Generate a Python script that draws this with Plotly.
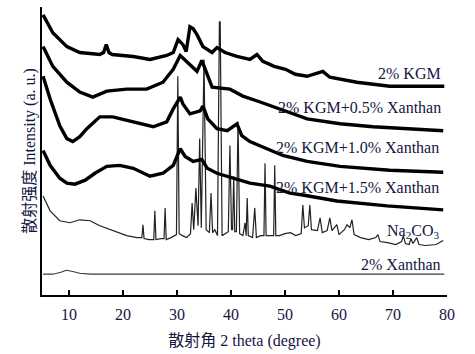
import plotly.graph_objects as go

# ---- data (2 theta in degree, intensity in arbitrary units) ----
kgm_x = [5.2, 7.0, 9.6, 12.0, 15.7, 16.4, 16.9, 17.4, 18.0, 21.9, 25.0, 28.1, 29.3, 30.2, 31.1, 31.7,
         32.4, 33.0, 33.7, 34.8, 36.5, 37.4, 38.9, 41.1, 43.5, 44.8, 45.9, 48.0, 50.1, 51.9, 54.1,
         55.5, 57.0, 58.3, 60.5, 63.3, 69.4, 75.0, 79.5]
kgm_y = [283, 265, 251, 245, 243, 245, 253, 245, 243, 241, 238, 242, 245, 258, 253, 246,
         271, 269, 263, 251, 245, 250, 245, 241, 238, 243, 236, 231, 228, 223, 221,
         223, 226, 220, 218, 215, 211, 211, 211]

x05_x = [5.2, 7.0, 9.6, 12.0, 14.4, 17.0, 20.7, 24.4, 27.4, 29.3, 30.6, 31.9, 33.7, 34.6, 35.6,
         36.5, 39.8, 42.2, 45.4, 49.1, 54.1, 60.2, 66.3, 79.3]
x05_y = [251, 231, 215, 205, 200, 206, 208, 208, 215, 228, 242, 235, 226, 237, 223,
         210, 208, 201, 195, 188, 178, 173, 170, 166]

x10_x = [5.2, 6.5, 8.3, 9.6, 10.7, 12.0, 13.3, 15.7, 18.1, 21.9, 25.6, 28.1, 29.3, 30.6, 31.1,
         32.4, 34.3, 34.8, 35.7, 37.4, 39.3, 41.1, 42.0, 43.5, 46.7, 49.6, 54.1, 60.2, 69.4, 79.3]
x10_y = [221, 198, 171, 158, 155, 160, 168, 180, 180, 175, 170, 175, 188, 200, 193,
         183, 186, 191, 178, 168, 166, 173, 161, 155, 148, 141, 135, 130, 126, 124]

x15_x = [5.2, 6.5, 8.3, 9.6, 11.1, 13.0, 14.8, 17.0, 19.4, 21.9, 25.0, 27.4, 29.3, 30.6, 31.5,
         33.0, 34.6, 35.6, 37.4, 40.4, 43.5, 47.2, 50.9, 53.3, 59.6, 68.9, 79.3]
x15_y = [146, 131, 118, 113, 112, 116, 123, 130, 131, 128, 120, 123, 131, 148, 140,
         135, 137, 128, 123, 118, 113, 110, 103, 101, 95, 90, 86]

na_x = [5.2, 6.5, 8.3, 10.2, 12.0, 13.9, 15.7, 18.1, 20.7, 22.6, 23.5, 23.7, 23.9, 24.8, 25.7,
        25.9, 26.1, 27.0, 27.6, 27.8, 28.0, 28.9, 29.9, 30.15, 30.4, 31.0, 31.8, 32.5, 32.8, 33.1,
        33.5, 33.9, 34.2, 34.5, 35.0, 35.4, 36.0, 36.3, 36.6, 37.0, 37.5, 37.85, 38.0, 38.35, 38.9,
        39.5, 39.8, 40.1, 40.3, 40.5, 40.7, 41.0, 41.3, 41.6, 42.2, 42.6, 42.8, 43.0, 43.2, 44.0,
        44.4, 44.7, 45.5, 46.1, 46.3, 46.5, 47.2, 47.9, 48.1, 48.3, 49.0, 50.0, 51.0, 52.0, 53.0,
        53.3, 53.6, 54.3, 54.6, 54.9, 56.0, 56.5, 56.9, 57.8, 58.3, 58.7, 59.6, 60.0, 61.0, 61.5,
        62.0, 62.4, 62.8, 64.0, 65.5, 66.8, 67.2, 67.6, 69.0, 70.5, 71.6, 71.9, 72.3, 73.0, 73.3,
        73.7, 74.4, 74.8, 76.0, 78.0, 79.3]
na_y = [100, 85, 75, 73, 76, 75, 70, 65, 60, 58, 58, 71, 57, 56, 56,
        85, 56, 57, 57, 88, 56, 58, 61, 221, 62, 60, 58, 62, 93, 66,
        108, 70, 158, 68, 238, 66, 63, 103, 63, 66, 60, 276, 276, 60, 62,
        64, 151, 66, 66, 120, 64, 64, 175, 62, 60, 73, 60, 98, 60, 58,
        88, 58, 60, 60, 133, 60, 60, 60, 131, 60, 60, 62, 63, 60, 62,
        91, 68, 70, 91, 66, 65, 78, 63, 65, 78, 65, 71, 61, 66, 71,
        68, 76, 61, 58, 56, 58, 61, 54, 53, 51, 54, 60, 52, 51, 57,
        52, 58, 51, 50, 51, 55]

xan_x = [5.2, 7.0, 8.5, 9.5, 10.5, 12.0, 14.0, 20.0, 40.0, 60.0, 79.5]
xan_y = [21, 21, 23, 25, 24, 22, 21, 21, 21, 21, 21]

x_ticks = [10, 20, 30, 40, 50, 60, 70, 80]
labels = ["2% KGM", "2% KGM+0.5% Xanthan", "2% KGM+1.0% Xanthan",
          "2% KGM+1.5% Xanthan", "Na<sub>2</sub>CO<sub>3</sub>", "2% Xanthan"]

TXT = "#15153f"
FONT = "Liberation Serif, Times New Roman, Noto Sans CJK SC, serif"

fig = go.Figure()
fig.add_trace(go.Scatter(x=xan_x, y=xan_y, mode="lines", line=dict(color="#3a3a3a", width=1.2)))
fig.add_trace(go.Scatter(x=na_x, y=na_y, mode="lines", line=dict(color="#222222", width=1.2)))
for xs, ys in [(x15_x, x15_y), (x10_x, x10_y), (x05_x, x05_y), (kgm_x, kgm_y)]:
    fig.add_trace(go.Scatter(x=xs, y=ys, mode="lines", line=dict(color="#000000", width=3.4)))

# label placement (positions only)
lab_pos = [(79.3, 224), (79.3, 189), (78.8, 149), (78.8, 109), (78.8, 64), (79.3, 31)]
for t, (lx, ly) in zip(labels, lab_pos):
    fig.add_annotation(x=lx, y=ly, text=t, showarrow=False, xanchor="right", yanchor="middle",
                       font=dict(family=FONT, size=16, color=TXT))

fig.update_layout(
    width=475, height=354, margin=dict(l=42, r=28, t=7, b=56),
    paper_bgcolor="white", plot_bgcolor="white", showlegend=False,
    font=dict(family=FONT, size=16, color=TXT),
)
fig.update_xaxes(range=[5, 80], tickvals=x_ticks, ticks="inside", ticklen=5, tickwidth=2,
                 tickcolor="black", showline=True, linewidth=2, linecolor="black",
                 showgrid=False, zeroline=False, ticklabelstandoff=4,
                 tickfont=dict(family=FONT, size=16, color=TXT),
                 title=dict(text="散射角 2 theta (degree)", standoff=13,
                            font=dict(family=FONT, size=16, color=TXT)))
fig.update_yaxes(range=[0, 291], showticklabels=False, ticks="", showline=True, linewidth=2,
                 linecolor="black", showgrid=False, zeroline=False,
                 title=dict(text="散射强度 Intensity (a. u.)", standoff=0,
                            font=dict(family=FONT, size=16, color=TXT)))

fig.write_html("out.html")
